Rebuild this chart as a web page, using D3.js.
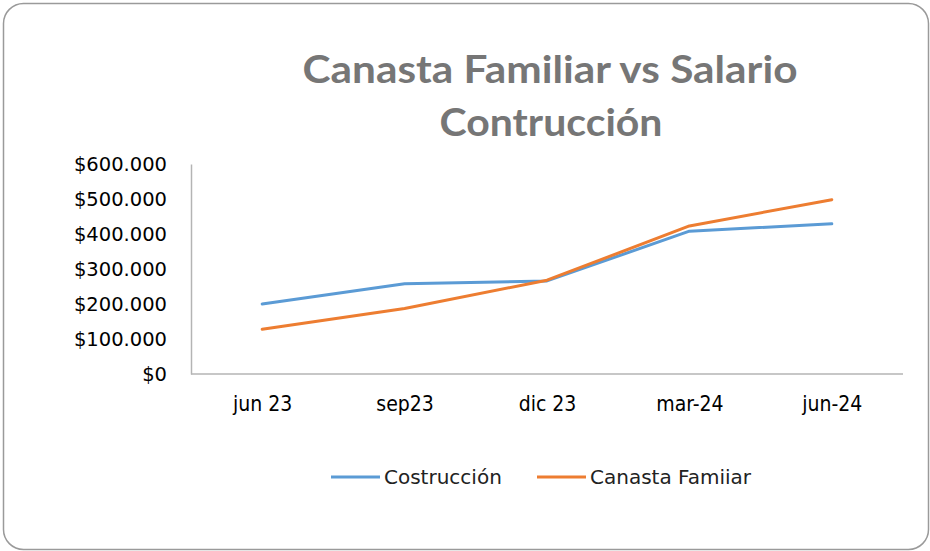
<!DOCTYPE html>
<html>
<head>
<meta charset="utf-8">
<script src="https://cdn.jsdelivr.net/npm/d3@7"></script>
<style>
  body { margin: 0; background: #fff; }
  text { font-family: "DejaVu Sans", sans-serif; }
</style>
</head>
<body>
<div id="chart"></div>
<script>
const periods      = ["jun 23", "sep23", "dic 23", "mar-24", "jun-24"];
const construccion = [200000, 258000, 266000, 408000, 429000];
const canasta      = [128000, 187000, 268000, 423000, 498000];
const yTicks       = [0, 100000, 200000, 300000, 400000, 500000, 600000];
const seriesNames  = ["Costrucción", "Canasta Famiiar"];
const seriesColors = ["#5b9bd5", "#ed7d31"];

const W = 930, H = 551;
const plot = {left: 191, right: 903, top: 164, bottom: 374};

const svg = d3.select("#chart").append("svg")
  .attr("width", W).attr("height", H);

// frame
svg.append("rect")
  .attr("x", 3.5).attr("y", 3.5)
  .attr("width", 925).attr("height", 546)
  .attr("rx", 20).attr("ry", 20)
  .attr("fill", "#fff")
  .attr("stroke", "#9a9a9a")
  .attr("stroke-width", 1.5);

// title
const title = svg.append("g")
  .attr("font-weight", "bold")
  .attr("fill", "#767676")
  .attr("text-anchor", "middle");
title.append("text")
  .attr("x", 550).attr("y", 83)
  .attr("font-size", 38)
  .attr("textLength", 495).attr("lengthAdjust", "spacingAndGlyphs")
  .style("font-family", "Lato, 'Open Sans', sans-serif")
  .text("Canasta Familiar vs Salario");
title.append("text")
  .attr("x", 551).attr("y", 136)
  .attr("font-size", 38)
  .attr("textLength", 223).attr("lengthAdjust", "spacingAndGlyphs")
  .style("font-family", "Lato, 'Open Sans', sans-serif")
  .text("Contrucción");

const x = d3.scalePoint()
  .domain(periods)
  .range([plot.left, plot.right])
  .padding(0.5);
const y = d3.scaleLinear()
  .domain([0, 600000])
  .range([plot.bottom, plot.top]);

const money = d3.formatLocale({
  decimal: ",", thousands: ".", grouping: [3], currency: ["$", ""]
}).format("$,");

const yAxis = svg.append("g")
  .attr("transform", `translate(${plot.left},0)`)
  .call(d3.axisLeft(y).tickValues(yTicks).tickFormat(money).tickSize(0).tickPadding(24));
yAxis.select(".domain").attr("stroke", "#b4b4b4").attr("stroke-width", 1.5);
yAxis.selectAll("text")
  .attr("font-size", 19.5)
  .attr("fill", "#000")
  .style("font-family", "'DejaVu Sans', sans-serif");

const xAxis = svg.append("g")
  .attr("transform", `translate(0,${plot.bottom})`)
  .call(d3.axisBottom(x).tickSize(0).tickPadding(22));
xAxis.select(".domain").attr("stroke", "#b4b4b4").attr("stroke-width", 1.5)
  .attr("d", `M${plot.left},0H${plot.right}`);
xAxis.selectAll("text")
  .attr("font-size", 21)
  .attr("fill", "#000")
  .style("font-family", "'DejaVu Sans Condensed', 'DejaVu Sans', sans-serif");

// lines
const line = d3.line()
  .x((d, i) => x(periods[i]))
  .y(d => y(d));
[construccion, canasta].forEach((vals, k) => {
  svg.append("path")
    .datum(vals)
    .attr("fill", "none")
    .attr("stroke", seriesColors[k])
    .attr("stroke-width", 3)
    .attr("stroke-linecap", "round")
    .attr("stroke-linejoin", "round")
    .attr("d", line);
});

// legend
const legendX = [331, 537];
const legend = svg.append("g");
seriesNames.forEach((name, k) => {
  legend.append("line")
    .attr("x1", legendX[k]).attr("x2", legendX[k] + 49)
    .attr("y1", 477).attr("y2", 477)
    .attr("stroke", seriesColors[k])
    .attr("stroke-width", 3);
  legend.append("text")
    .attr("x", legendX[k] + 53).attr("y", 484)
    .attr("font-size", 20)
    .attr("fill", "#222")
    .text(name);
});
</script>
</body>
</html>
